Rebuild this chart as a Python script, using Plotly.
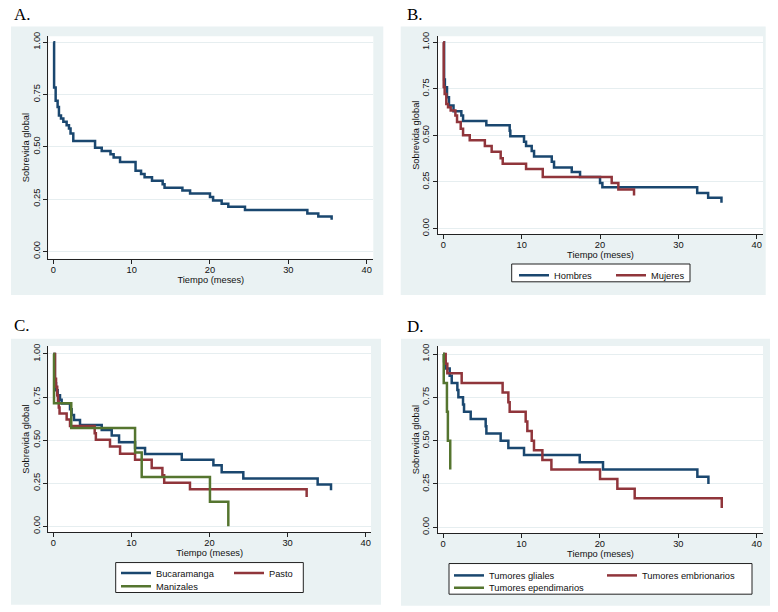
import plotly.graph_objects as go

W, H = 778, 612

# ---------------- data ----------------
x_ticks = [0, 10, 20, 30, 40]
y_ticks = [0, 0.25, 0.5, 0.75, 1.0]
y_tick_labels = ["0.00", "0.25", "0.50", "0.75", "1.00"]

# A. todos los pacientes
tA = [0, 0.1, 0.3, 0.55, 0.72, 0.98, 1.28, 1.7, 2.0, 2.2, 2.55, 5.33, 6.18, 7.3, 7.7,
      8.52, 10.5, 11.2, 11.65, 12.6, 13.96, 14.2, 16.48, 17.46, 20.0, 20.4, 21.49,
      22.34, 24.47, 32.43, 33.83, 35.53]
sA = [1.0, 0.784, 0.72, 0.69, 0.65, 0.635, 0.62, 0.603, 0.587, 0.564, 0.528, 0.496,
      0.48, 0.465, 0.449, 0.427, 0.386, 0.37, 0.354, 0.338, 0.321, 0.304, 0.291, 0.277,
      0.26, 0.243, 0.228, 0.213, 0.198, 0.181, 0.167, 0.151]

# B. sexo
t_hombres = [0, 0.1, 0.2, 0.47, 0.72, 1.3, 2.3, 2.52, 5.49, 8.47, 8.55, 10.3, 10.56,
             11.28, 11.58, 13.84, 14.13, 16.39, 17.45, 20.0, 20.3, 32.4, 33.8, 35.5]
s_hombres = [1.0, 0.80, 0.758, 0.705, 0.66, 0.63, 0.607, 0.577, 0.555, 0.525, 0.496,
             0.466, 0.443, 0.416, 0.386, 0.359, 0.328, 0.303, 0.276, 0.244, 0.221,
             0.191, 0.165, 0.138]
t_mujeres = [0, 0.05, 0.17, 0.38, 0.6, 0.94, 1.54, 1.75, 2.22, 2.52, 3.37, 5.3, 6.17,
             7.32, 7.58, 10.56, 12.69, 21.49, 22.34, 24.34]
s_mujeres = [1.0, 0.76, 0.722, 0.669, 0.651, 0.634, 0.607, 0.572, 0.536, 0.501, 0.474,
             0.443, 0.412, 0.377, 0.347, 0.32, 0.276, 0.244, 0.209, 0.177]

# C. ciudad
t_bucaramanga = [0, 0.2, 0.35, 0.56, 0.86, 1.07, 2.14, 2.35, 2.65, 3.42, 6.2, 7.48,
                 8.42, 10.47, 11.75, 16.45, 20.5, 21.56, 24.33, 33.85, 35.56]
s_bucaramanga = [1.0, 0.83, 0.79, 0.76, 0.735, 0.712, 0.68, 0.646, 0.617, 0.588, 0.559,
                 0.527, 0.488, 0.454, 0.419, 0.387, 0.354, 0.314, 0.278, 0.243, 0.209]
t_pasto = [0, 0.22, 0.35, 0.5, 0.6, 0.7, 0.8, 1.71, 2.14, 5.3, 5.45, 7.26, 8.55, 10.47,
           12.6, 13.97, 14.2, 17.5, 32.44]
s_pasto = [1.0, 0.856, 0.81, 0.76, 0.725, 0.69, 0.655, 0.62, 0.582, 0.54, 0.503, 0.463,
           0.421, 0.387, 0.339, 0.297, 0.253, 0.215, 0.17]
t_manizales = [0, 0.09, 2.3, 10.47, 11.32, 20.06, 22.41]
s_manizales = [1.0, 0.714, 0.571, 0.429, 0.286, 0.143, 0.0]

# D. tipo de tumor
t_gliales = [0, 0.13, 0.34, 0.85, 1.11, 1.83, 1.96, 2.55, 2.68, 3.53, 5.44, 5.53, 7.35,
             8.33, 10.33, 17.43, 20.4, 32.43, 33.84]
s_gliales = [1.0, 0.958, 0.917, 0.875, 0.833, 0.792, 0.75, 0.708, 0.667, 0.625, 0.583,
             0.542, 0.5, 0.458, 0.417, 0.375, 0.333, 0.292, 0.25]
t_embrionarios = [0, 0.34, 0.55, 2.38, 7.6, 8.33, 8.5, 10.54, 10.75, 11.31, 11.6, 12.67,
                  13.82, 20.02, 22.23, 24.44, 35.54]
s_embrionarios = [1.0, 0.944, 0.889, 0.833, 0.778, 0.722, 0.667, 0.611, 0.556, 0.5,
                  0.444, 0.389, 0.333, 0.278, 0.222, 0.167, 0.111]
t_ependimarios = [0, 0.09, 0.5, 0.62, 0.92]
s_ependimarios = [1.0, 0.833, 0.667, 0.5, 0.333]

# ---------------- style ----------------
NAVY, MAROON, GREEN = "#1A476F", "#90353B", "#55752F"
PANEL_BG = "#EAF2F3"
SANS = "Liberation Sans, Arial, sans-serif"
SERIF = "Liberation Serif, Times New Roman, serif"
FS = 9.3


def fx(x):
    return x / W


def fy(y):
    return 1 - y / H


# pixel geometry of each panel: white plot region, panel background, ranges
panels = [
    dict(ax="", white=(48.3, 31.7, 373.3, 256.7), bg=(11, 21.7, 383.3, 293.3),
         xr=[-0.64, 40.85], yr=[-0.035, 1.028], label="A.", lab=(12, 9.5)),
    dict(ax="2", white=(438, 31.7, 763, 231.7), bg=(400.7, 21.7, 765.7, 293.3),
         xr=[-0.68, 40.8], yr=[-0.030, 1.032], label="B.", lab=(405.5, 9.5)),
    dict(ax="3", white=(48.3, 345, 371, 533.3), bg=(11, 337.7, 381, 606.7),
         xr=[-0.64, 40.68], yr=[-0.034, 1.046], label="C.", lab=(12, 324.5)),
    dict(ax="4", white=(438, 345, 763, 534.3), bg=(401, 337.7, 770, 607.7),
         xr=[-0.64, 40.8], yr=[-0.034, 1.046], label="D.", lab=(405.5, 325)),
]

fig = go.Figure()


def add_curve(t, s, color, ax, name=None, legend=None):
    fig.add_trace(go.Scatter(
        x=t, y=s, mode="lines", name=name,
        line=dict(color=color, width=2.5, shape="hv"),
        xaxis="x" + ax, yaxis="y" + ax,
        showlegend=name is not None,
        legend=legend if legend else "legend",
        hoverinfo="skip",
    ))


add_curve(tA, sA, NAVY, "")
add_curve(t_hombres, s_hombres, NAVY, "2", "Hombres", "legend")
add_curve(t_mujeres, s_mujeres, MAROON, "2", "Mujeres", "legend")
add_curve(t_bucaramanga, s_bucaramanga, NAVY, "3", "Bucaramanga", "legend2")
add_curve(t_pasto, s_pasto, MAROON, "3", "Pasto", "legend2")
add_curve(t_manizales, s_manizales, GREEN, "3", "Manizales", "legend3")
add_curve(t_gliales, s_gliales, NAVY, "4", "Tumores gliales", "legend4")
add_curve(t_embrionarios, s_embrionarios, MAROON, "4", "Tumores embrionarios", "legend4")
add_curve(t_ependimarios, s_ependimarios, GREEN, "4", "Tumores ependimarios", "legend5")

shapes = []
annotations = []
layout = dict(
    width=W, height=H, margin=dict(l=0, r=0, t=0, b=0),
    paper_bgcolor="white", plot_bgcolor="white",
    font=dict(family=SANS, size=FS, color="#111"),
)

for p in panels:
    x0, y0, x1, y1 = p["bg"]
    shapes.append(dict(type="rect", xref="paper", yref="paper", layer="below",
                       x0=fx(x0), x1=fx(x1), y0=fy(y1), y1=fy(y0),
                       fillcolor=PANEL_BG, line=dict(width=0)))
    wx0, wy0, wx1, wy1 = p["white"]
    shapes.append(dict(type="rect", xref="paper", yref="paper", layer="below",
                       x0=fx(wx0), x1=fx(wx1), y0=fy(wy1), y1=fy(wy0),
                       fillcolor="white", line=dict(width=0)))
    ax = p["ax"]
    layout["xaxis" + ax] = dict(
        domain=[fx(wx0), fx(wx1)], range=p["xr"], anchor="y" + ax,
        tickvals=x_ticks, ticks="outside", ticklen=4, tickwidth=1, tickcolor="#222",
        showline=True, linecolor="#222", linewidth=1, showgrid=False, zeroline=False,
        tickfont=dict(size=FS, color="#111"), ticklabelstandoff=-2,
        title=dict(text="Tiempo (meses)", font=dict(size=FS, color="#111"), standoff=1),
        fixedrange=True,
    )
    layout["yaxis" + ax] = dict(
        domain=[fy(wy1), fy(wy0)], range=p["yr"], anchor="x" + ax,
        tickvals=y_ticks, ticktext=y_tick_labels, tickangle=-90,
        ticks="outside", ticklen=4, tickwidth=1, tickcolor="#222",
        showline=True, linecolor="#222", linewidth=1,
        showgrid=True, gridcolor="#E6EEF0", gridwidth=1, zeroline=False,
        tickfont=dict(size=FS, color="#111"),
        title=dict(text="Sobrevida global", font=dict(size=FS, color="#111"), standoff=0),
        fixedrange=True,
    )
    lx, ly = p["lab"]
    annotations.append(dict(text=p["label"], xref="paper", yref="paper",
                            x=fx(lx), y=fy(ly), xanchor="left", yanchor="middle",
                            showarrow=False, font=dict(family=SERIF, size=17, color="#000")))

# legend frames
for (x0, y0, x1, y1) in [(511.7, 262, 690, 280), (115.7, 564, 303.3, 594.3),
                         (449, 565, 752, 596)]:
    shapes.append(dict(type="rect", xref="paper", yref="paper", layer="below",
                       x0=fx(x0), x1=fx(x1), y0=fy(y1), y1=fy(y0),
                       fillcolor="white", line=dict(color="#222", width=1)))


def leg(xpx, ypx, entry):
    return dict(orientation="h", x=fx(xpx), y=fy(ypx), xanchor="left", yanchor="middle",
                bgcolor="rgba(0,0,0,0)", borderwidth=0, itemwidth=30,
                entrywidth=entry, entrywidthmode="pixels", tracegroupgap=0,
                font=dict(family=SANS, size=FS, color="#111"), itemclick=False,
                itemdoubleclick=False)


layout["legend"] = leg(514, 273.5, 52)
layout["legend2"] = leg(116, 574.5, 68)
layout["legend3"] = leg(116, 588, 68)
layout["legend4"] = leg(449, 577, 108)
layout["legend5"] = leg(449, 589.5, 108)

layout["shapes"] = shapes
layout["annotations"] = annotations
fig.update_layout(**layout)

fig.write_html("out.html", config={"displayModeBar": False},
               post_script="document.body.style.margin='0px';")
